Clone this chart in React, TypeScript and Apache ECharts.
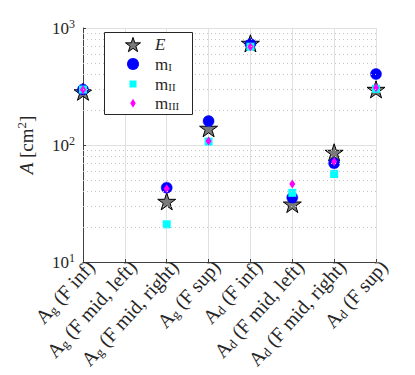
import React, { useEffect, useRef } from "react";
import * as echarts from "echarts";

const categories = [
  "A_g (F inf)",
  "A_g (F mid, left)",
  "A_g (F mid, right)",
  "A_g (F sup)",
  "A_d (F inf)",
  "A_d (F mid, left)",
  "A_d (F mid, right)",
  "A_d (F sup)",
];
const valuesE = [285, null, 33, 139, 740, 31.3, 86.6, 299];
const valuesMI = [298, null, 43.2, 160, 730, 35.5, 69.7, 404];
const valuesMII = [298, null, 21, 107, 692, 39, 56.5, 302];
const valuesMIII = [297, null, 42.3, 108, 690, 46.4, 72, 309];
const minorGridValues = [20, 30, 40, 50, 60, 70, 80, 90, 200, 300, 400, 500, 600, 700, 800, 900];
const legendNames = ["E", "m_I", "m_II", "m_III"];

const FONT = "'Liberation Serif', 'DejaVu Serif', serif";
const TXT = "#262626";
const STAR_GRAY = "#7a7a7a";

const STAR =
  "path://M50 0L61.23 34.55L97.55 34.55L68.16 55.9L79.39 90.45L50 69.1L20.61 90.45L31.84 55.9L2.45 34.55L38.77 34.55Z";

function pairs(vals: (number | null)[]) {
  const out: any[] = [];
  vals.forEach((v, i) => {
    if (v != null) out.push([categories[i], v]);
  });
  return out;
}

function starPoints(cx: number, cy: number, R: number) {
  const pts: number[][] = [];
  for (let k = 0; k < 10; k++) {
    const r = k % 2 === 0 ? R : R * 0.382;
    const ang = -Math.PI / 2 + (k * Math.PI) / 5;
    pts.push([cx + r * Math.cos(ang), cy + r * Math.sin(ang)]);
  }
  return pts;
}

function legendGraphic() {
  const bx = 104.5;
  const by = 32.5;
  const iconX = 133;
  const textX = 155;
  const rowY = [44.7, 64, 84, 103.3];
  const rich = {
    a: { fontSize: 17, fontFamily: FONT, fill: TXT, lineHeight: 17 },
    s: { fontSize: 11, fontFamily: FONT, fill: TXT, lineHeight: 11, padding: [6, 0, 0, 0] },
    e: { fontSize: 17, fontFamily: FONT, fill: TXT, fontStyle: "italic", lineHeight: 17 },
  };
  const label = (n: string) => (n === "E" ? "{e|E}" : "{a|m}{s|" + n.split("_")[1] + "}");
  const els: any[] = [
    {
      type: "rect",
      shape: { x: bx, y: by, width: 88, height: 82 },
      style: { fill: "#fff", stroke: TXT, lineWidth: 1 },
      z: 100,
    },
    {
      type: "polygon",
      shape: { points: starPoints(iconX, rowY[0] + 0.6, 7.9) },
      style: { fill: STAR_GRAY, stroke: "#000", lineWidth: 1 },
      z: 101,
    },
    {
      type: "circle",
      shape: { cx: iconX, cy: rowY[1], r: 6 },
      style: { fill: "#0000ff" },
      z: 101,
    },
    {
      type: "rect",
      shape: { x: iconX - 3.5, y: rowY[2] - 3.5, width: 7, height: 7 },
      style: { fill: "#00ffff" },
      z: 101,
    },
    {
      type: "polygon",
      shape: {
        points: [
          [iconX, rowY[3] - 4.5],
          [iconX + 2.7, rowY[3]],
          [iconX, rowY[3] + 4.5],
          [iconX - 2.7, rowY[3]],
        ],
      },
      style: { fill: "#ff00ff" },
      z: 101,
    },
  ];
  legendNames.forEach((n, i) => {
    els.push({
      type: "text",
      x: textX,
      y: rowY[i],
      z: 101,
      style: {
        text: label(n),
        rich,
        fontFamily: FONT,
        fontSize: 17,
        fill: TXT,
        align: "left",
        verticalAlign: "middle",
      },
    });
  });
  return els;
}

export default function App() {
  const ref = useRef<HTMLDivElement>(null);
  useEffect(() => {
    if (!ref.current) return;
    const chart = echarts.init(ref.current, undefined, { renderer: "svg" });
    const xRich = {
      a: { fontSize: 20, fontFamily: FONT, color: TXT, lineHeight: 21 },
      s: { fontSize: 13, fontFamily: FONT, color: TXT, lineHeight: 13, padding: [8, 0, 0, 0] },
    };
    chart.setOption({
      animation: false,
      textStyle: { fontFamily: FONT },
      grid: { left: 83, right: 39, top: 28, bottom: 113, outerBoundsMode: "none" },
      legend: { show: false, data: legendNames },
      graphic: legendGraphic(),
      xAxis: {
        type: "category",
        data: categories,
        boundaryGap: false,
        axisLine: { show: true, lineStyle: { color: "#404040", width: 1 } },
        axisTick: { show: true, inside: true, length: 3, alignWithLabel: true, lineStyle: { color: "#404040" } },
        splitLine: { show: true, interval: 0, lineStyle: { color: "#e0e0e0", width: 1 } },
        axisLabel: {
          interval: 0,
          rotate: 48,
          margin: -6,
          align: "right",
          verticalAlign: "top",
          padding: [0, 0, 0, 0],
          fontFamily: FONT,
          formatter: (v: string) => {
            const m = v.match(/^A_(\w) (.*)$/);
            if (!m) return v;
            return "{a|A}{s|" + m[1] + "}{a| " + m[2] + "}";
          },
          rich: xRich,
        },
      },
      yAxis: {
        type: "log",
        logBase: 10,
        min: 10,
        max: 1000,
        name: "{e|A}{a| [cm}{p|2}{a|]}",
        nameLocation: "middle",
        nameGap: 46,
        nameTextStyle: {
          fontFamily: FONT,
          rich: {
            e: { fontSize: 19, fontFamily: FONT, color: TXT, fontStyle: "italic" },
            a: { fontSize: 19, fontFamily: FONT, color: TXT },
            p: { fontSize: 13, fontFamily: FONT, color: TXT, padding: [0, 0, 9, 0] },
          },
        },
        axisLine: { show: true, lineStyle: { color: "#404040", width: 1 } },
        axisTick: { show: true, inside: true, length: 3, lineStyle: { color: "#404040" } },
        splitLine: { show: true, lineStyle: { color: "#e0e0e0", width: 1 } },
        axisLabel: {
          margin: 8,
          fontFamily: FONT,
          formatter: (v: number) => "{b|10}{p|" + Math.round(Math.log10(v)) + "}",
          rich: {
            b: { fontSize: 17, fontFamily: FONT, color: TXT },
            p: { fontSize: 12, fontFamily: FONT, color: TXT, padding: [0, 0, 8, 0] },
          },
        },
      },
      series: [
        {
          name: "minor",
          type: "scatter",
          data: [],
          silent: true,
          markLine: {
            silent: true,
            symbol: "none",
            label: { show: false },
            lineStyle: { color: "#c4c4c4", type: [1, 3], width: 1 },
            data: minorGridValues.map((v) => ({ yAxis: v })),
          },
        },
        {
          name: "E",
          type: "scatter",
          data: pairs(valuesE),
          symbol: STAR,
          symbolKeepAspect: true,
          symbolSize: 18,
          itemStyle: { color: STAR_GRAY, borderColor: "#000", borderWidth: 1, opacity: 1 },
        },
        {
          name: "m_I",
          type: "scatter",
          data: pairs(valuesMI),
          symbol: "circle",
          symbolSize: 11,
          itemStyle: { color: "#0000ff", borderColor: "#0000ff", borderWidth: 0.5, opacity: 1 },
        },
        {
          name: "m_II",
          type: "scatter",
          data: pairs(valuesMII),
          symbol: "rect",
          symbolSize: 8,
          itemStyle: { color: "#00ffff", opacity: 1 },
        },
        {
          name: "m_III",
          type: "scatter",
          data: pairs(valuesMIII),
          symbol: "diamond",
          symbolSize: [6, 9],
          itemStyle: { color: "#ff00ff", opacity: 1 },
        },
      ],
    });
    return () => chart.dispose();
  }, []);
  return (
    <div
      ref={ref}
      style={{ position: "fixed", left: 0, top: 0, width: 415, height: 375, background: "#fff" }}
    />
  );
}
